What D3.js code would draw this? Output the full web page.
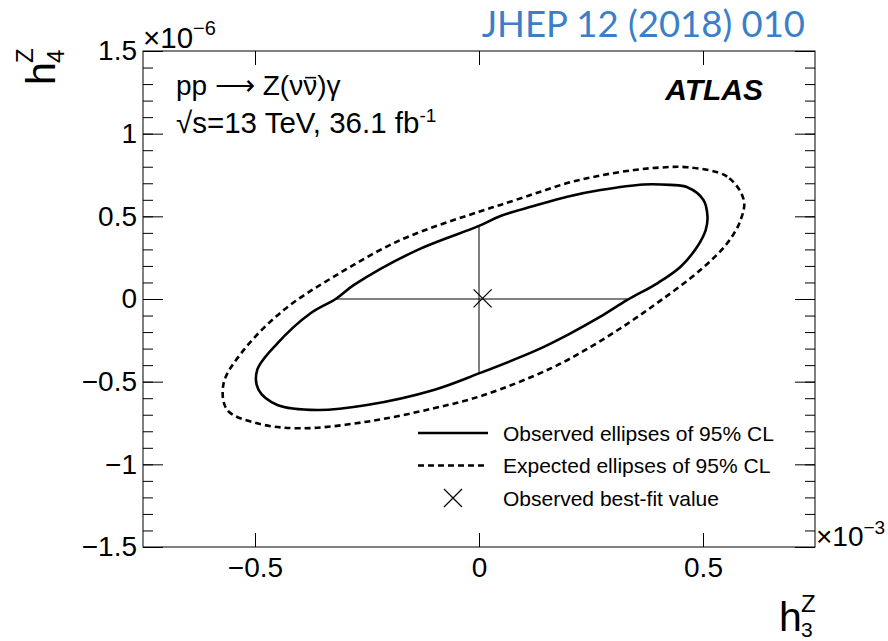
<!DOCTYPE html>
<html>
<head>
<meta charset="utf-8">
<script src="https://cdn.jsdelivr.net/npm/d3@7"></script>
<style>
  html, body { margin: 0; padding: 0; background: #fff; }
  svg { display: block; }
  text { font-family: "Liberation Sans", Arial, Helvetica, sans-serif; fill: #000; }
</style>
</head>
<body>
<svg id="chart" width="888" height="641"></svg>
<script>
// 95% CL contours in the (h3Z [x1e-3], h4Z [x1e-6]) plane
const observedContour = [
  [0.510, 0.498], [0.501, 0.599], [0.465, 0.676], [0.427, 0.690],
  [0.367, 0.693], [0.271, 0.659], [0.197, 0.619], [0.122, 0.562],
  [0.048, 0.502], [0.000, 0.442], [-0.138, 0.296], [-0.279, 0.085],
  [-0.320, 0.000], [-0.376, -0.086], [-0.450, -0.268], [-0.495, -0.429],
  [-0.492, -0.550], [-0.450, -0.641], [-0.361, -0.671], [-0.250, -0.641],
  [-0.101, -0.550], [0.000, -0.450], [0.130, -0.308], [0.197, -0.218],
  [0.271, -0.107], [0.331, -0.006], [0.398, 0.095], [0.450, 0.195],
  [0.487, 0.316], [0.506, 0.417]
];
const expectedContour = [
  [0.591, 0.599], [0.554, 0.740], [0.465, 0.797], [0.405, 0.795],
  [0.346, 0.780], [0.271, 0.747], [0.197, 0.701], [0.122, 0.635],
  [0.048, 0.569], [0.000, 0.528], [-0.175, 0.357], [-0.324, 0.135],
  [-0.436, -0.067], [-0.525, -0.308], [-0.570, -0.510], [-0.562, -0.671],
  [-0.495, -0.752], [-0.398, -0.782], [-0.250, -0.742], [-0.101, -0.661],
  [0.011, -0.581], [0.160, -0.420], [0.249, -0.290], [0.331, -0.150],
  [0.405, -0.010], [0.494, 0.175], [0.554, 0.337], [0.584, 0.478]
];
// best-fit point and the one-dimensional limits drawn through the origin
const bestFit = [0.008, 0.004];
const h3Limits = [-0.320, 0.331];
const h4Limits = [-0.450, 0.442];

const h3Ticks = [-0.5, 0, 0.5];
const h3TickLabels = ["\u22120.5", "0", "0.5"];
const h4Ticks = [-1.5, -1, -0.5, 0, 0.5, 1, 1.5];
const h4TickLabels = ["\u22121.5", "\u22121", "\u22120.5", "0", "0.5", "1", "1.5"];
const h4MinorTicks = d3.range(-15, 16).map(v => v / 10);

const legendLabels = [
  "Observed ellipses of 95% CL",
  "Expected ellipses of 95% CL",
  "Observed best-fit value"
];

const svg = d3.select("#chart");
const L = 143, R = 815, T = 51, B = 547;

const x = d3.scaleLinear().domain([-0.75, 0.75]).range([L, R]);
const y = d3.scaleLinear().domain([-1.5, 1.5]).range([B, T]);

// journal reference
svg.append("text")
  .attr("x", 805).attr("y", 37)
  .attr("text-anchor", "end")
  .style("font-family", "Lato, 'Open Sans', sans-serif")
  .style("font-size", "36.5px")
  .style("fill", "#3a7fc8")
  .text("JHEP 12 (2018) 010");

// axes: ticks point into the frame
function styleAxis(g) {
  g.selectAll(".domain").remove();
  g.selectAll(".tick line").attr("stroke", "#000").attr("stroke-width", 1);
  g.selectAll(".tick text").style("font-size", "28px").attr("fill", "#000");
}

svg.append("g").attr("transform", `translate(${L},0)`)
  .call(d3.axisLeft(y).tickValues(h4MinorTicks).tickSize(-10).tickFormat(""))
  .call(styleAxis);
svg.append("g").attr("transform", `translate(${L},0)`)
  .call(d3.axisLeft(y).tickValues(h4Ticks).tickSize(-20).tickPadding(6)
    .tickFormat((d, i) => h4TickLabels[i]))
  .call(styleAxis);
svg.append("g").attr("transform", `translate(${R},0)`)
  .call(d3.axisRight(y).tickValues(h4MinorTicks).tickSize(-10).tickFormat(""))
  .call(styleAxis);
svg.append("g").attr("transform", `translate(${R},0)`)
  .call(d3.axisRight(y).tickValues(h4Ticks).tickSize(-20).tickFormat(""))
  .call(styleAxis);
svg.append("g").attr("transform", `translate(0,${B})`)
  .call(d3.axisBottom(x).tickValues(h3Ticks).tickSize(-14).tickPadding(10)
    .tickFormat((d, i) => h3TickLabels[i]))
  .call(styleAxis);
svg.append("g").attr("transform", `translate(0,${T})`)
  .call(d3.axisTop(x).tickValues(h3Ticks).tickSize(-14).tickFormat(""))
  .call(styleAxis);

// frame
svg.append("rect")
  .attr("x", L).attr("y", T).attr("width", R - L).attr("height", B - T)
  .attr("fill", "none").attr("stroke", "#000").attr("stroke-width", 1);

// axis exponents
const expY = svg.append("text").attr("x", L).attr("y", 48).style("font-size", "29.5px");
expY.append("tspan").text("\u00d710");
expY.append("tspan").attr("dy", -13).style("font-size", "20px").text("\u22126");

const expX = svg.append("text").attr("x", 816).attr("y", 546).style("font-size", "28px");
expX.append("tspan").text("\u00d710");
expX.append("tspan").attr("dy", -12).style("font-size", "19px").text("\u22123");

// axis titles
const xt = svg.append("g");
xt.append("text").attr("x", 779).attr("y", 631).style("font-size", "41px").text("h");
xt.append("text").attr("x", 801).attr("y", 612).style("font-size", "24px").text("Z");
xt.append("text").attr("x", 801).attr("y", 637).style("font-size", "21px").text("3");

const yt = svg.append("g").attr("transform", "translate(55,85) rotate(-90)");
yt.append("text").attr("x", 0).attr("y", 0).style("font-size", "41px").text("h");
yt.append("text").attr("x", 22).attr("y", -22).style("font-size", "24px").text("Z");
yt.append("text").attr("x", 22).attr("y", 9).style("font-size", "24px").text("4");

// process and luminosity labels
const procSize = 28;
const proc = svg.append("text").attr("x", 176).attr("y", 95).style("font-size", procSize + "px")
  .text("pp \u27f6 Z(\u03bd\u03bd)\u03b3");
// bar over the anti-neutrino
const nuBar = proc.node().getExtentOfChar(8);
svg.append("line")
  .attr("x1", nuBar.x + 2).attr("x2", nuBar.x + nuBar.width - 1)
  .attr("y1", 95 - procSize * 0.62).attr("y2", 95 - procSize * 0.62)
  .attr("stroke", "#000").attr("stroke-width", 1.6);

const lumi = svg.append("text").attr("x", 176).attr("y", 133).style("font-size", "29.5px");
lumi.append("tspan").text("\u221as=13 TeV, 36.1 fb");
lumi.append("tspan").attr("dy", -11).style("font-size", "19px").text("-1");

svg.append("text")
  .attr("x", 763).attr("y", 100).attr("text-anchor", "end")
  .style("font-size", "30px").style("font-weight", "bold").style("font-style", "italic")
  .text("ATLAS");

// one-dimensional limit lines
svg.append("line")
  .attr("x1", x(h3Limits[0])).attr("x2", x(h3Limits[1]))
  .attr("y1", y(0)).attr("y2", y(0))
  .attr("stroke", "#000").attr("stroke-width", 1);
svg.append("line")
  .attr("x1", x(0)).attr("x2", x(0))
  .attr("y1", y(h4Limits[0])).attr("y2", y(h4Limits[1]))
  .attr("stroke", "#000").attr("stroke-width", 1);

// contours
const contourLine = d3.line()
  .x(d => x(d[0])).y(d => y(d[1]))
  .curve(d3.curveCatmullRomClosed.alpha(0.5));

svg.append("path").datum(expectedContour)
  .attr("d", contourLine)
  .attr("fill", "none").attr("stroke", "#000")
  .attr("stroke-width", 2.6).attr("stroke-dasharray", "6,4");
svg.append("path").datum(observedContour)
  .attr("d", contourLine)
  .attr("fill", "none").attr("stroke", "#000")
  .attr("stroke-width", 2.6);

// cross marker
function drawCross(cx, cy, r) {
  svg.append("path")
    .attr("d", `M${cx - r},${cy - r}L${cx + r},${cy + r}M${cx - r},${cy + r}L${cx + r},${cy - r}`)
    .attr("stroke", "#000").attr("stroke-width", 1.2).attr("fill", "none");
}
drawCross(x(bestFit[0]), y(bestFit[1]), 9);

// legend
const legY = [433, 465.5, 498];
svg.append("line").attr("x1", 418).attr("x2", 488).attr("y1", legY[0]).attr("y2", legY[0])
  .attr("stroke", "#000").attr("stroke-width", 2.6);
svg.append("line").attr("x1", 418).attr("x2", 488).attr("y1", legY[1]).attr("y2", legY[1])
  .attr("stroke", "#000").attr("stroke-width", 2.6).attr("stroke-dasharray", "6,4");
drawCross(453, legY[2], 9);
legendLabels.forEach((t, i) => {
  svg.append("text").attr("x", 503).attr("y", legY[i] + 7.5)
    .style("font-size", "21px").text(t);
});
</script>
</body>
</html>
